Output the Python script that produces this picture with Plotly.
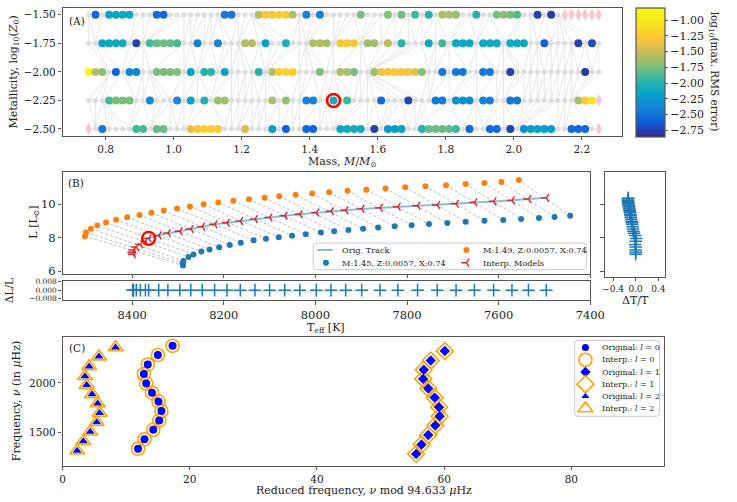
import plotly.graph_objects as go

W, H = 737, 502
FONT = "DejaVu Serif"
TXT = "#222222"
AXC = "#555555"

# ---------------- Panel A data ----------------
metallicity_rows = [-1.50, -1.75, -2.00, -2.25, -2.50]
mass_grid = [0.75, 0.77, 0.79, 0.81, 0.83, 0.85, 0.87, 0.89, 0.91, 0.93, 0.95, 0.97, 0.99,
             1.01, 1.03, 1.05, 1.07, 1.09, 1.11, 1.13, 1.15, 1.17, 1.19, 1.21, 1.23, 1.25,
             1.27, 1.29, 1.31, 1.33, 1.35, 1.37, 1.39, 1.41, 1.43, 1.45, 1.47, 1.49, 1.51,
             1.53, 1.55, 1.57, 1.59, 1.61, 1.63, 1.65, 1.67, 1.69, 1.71, 1.73, 1.75, 1.77,
             1.79, 1.81, 1.83, 1.85, 1.87, 1.89, 1.91, 1.93, 1.95, 1.97, 1.99, 2.01, 2.03,
             2.05, 2.07, 2.09, 2.11, 2.13, 2.15, 2.17, 2.19, 2.21, 2.23, 2.25]

z150_mass = [0.77, 0.81, 0.83, 0.85, 0.87, 0.95, 0.97, 1.15, 1.17, 1.25, 1.27, 1.29, 1.31, 1.33,
             1.35, 1.39, 1.43, 1.55, 1.63, 1.67, 1.71, 1.75, 1.79, 1.81, 1.83, 1.89, 1.95, 1.97,
             1.99, 2.01, 2.07, 2.11]
z150_err = [-2.55, -2.15, -2.15, -2.12, -2.15, -2.55, -2.55, -2.45, -2.45, -1.60, -1.30, -1.30,
            -1.22, -1.25, -1.58, -2.40, -2.40, -1.75, -1.72, -1.78, -1.92, -2.00, -1.60, -1.60,
            -1.65, -2.00, -1.75, -1.72, -1.75, -1.85, -2.75, -2.78]
z150_fail = [2.15, 2.17, 2.19, 2.21, 2.23, 2.25]

z175_mass = [0.79, 0.81, 0.83, 0.85, 0.89, 0.93, 0.95, 0.97, 0.99, 1.01, 1.07, 1.13, 1.21, 1.23,
             1.27, 1.33, 1.41, 1.43, 1.45, 1.49, 1.51, 1.53, 1.57, 1.59, 1.63, 1.67, 1.75, 1.79,
             1.83, 1.85, 1.87, 1.91, 1.93, 1.95, 1.99, 2.01, 2.03, 2.09, 2.19, 2.23]
z175_err = [-2.15, -2.15, -2.15, -2.10, -2.75, -1.90, -1.80, -1.78, -1.80, -1.88, -2.40, -2.40,
            -1.60, -1.58, -2.20, -2.05, -1.60, -1.58, -1.62, -1.30, -1.28, -1.30, -1.65, -1.65,
            -1.55, -2.00, -2.15, -1.90, -2.15, -2.15, -2.15, -2.15, -2.15, -2.15, -2.12, -2.12,
            -2.12, -2.60, -2.75, -2.70]
z175_fail = []

z200_mass = [0.75, 0.77, 0.79, 0.83, 0.87, 0.89, 0.95, 0.97, 0.99, 1.01, 1.05, 1.09, 1.11, 1.15,
             1.25, 1.29, 1.31, 1.33, 1.35, 1.43, 1.49, 1.51, 1.53, 1.59, 1.61, 1.63, 1.65, 1.67,
             1.69, 1.71, 1.73, 1.79, 1.83, 1.85, 1.91, 1.93, 1.99, 2.21]
z200_err = [-0.85, -1.60, -1.68, -2.60, -2.35, -2.35, -1.75, -1.75, -1.75, -1.72, -2.20, -2.00,
            -2.00, -2.20, -2.00, -1.58, -1.22, -1.20, -1.25, -1.75, -1.60, -1.60, -1.75, -1.65,
            -1.35, -1.30, -1.28, -1.30, -1.30, -1.40, -1.72, -2.45, -2.45, -2.45, -2.45, -2.45,
            -2.75, -2.78]
z200_fail = []

z225_mass = [0.81, 0.83, 0.85, 0.87, 0.93, 1.01, 1.05, 1.09, 1.13, 1.15, 1.29, 1.33, 1.39, 1.41,
             1.47, 1.51, 1.61, 1.69, 1.77, 1.79, 1.83, 1.85, 1.87, 1.91, 1.93, 1.99, 2.01, 2.19,
             2.21, 2.23]
z225_err = [-1.90, -1.75, -1.75, -1.75, -2.35, -2.35, -2.20, -2.00, -1.65, -1.65, -1.60, -1.68,
            -2.40, -2.40, -2.05, -1.90, -2.55, -2.72, -2.45, -2.45, -2.30, -2.30, -2.30, -2.40,
            -2.40, -2.45, -2.45, -1.62, -1.28, -1.02]
z225_fail = [2.25]

z250_mass = [0.79, 0.89, 0.91, 0.95, 0.97, 1.05, 1.07, 1.09, 1.11, 1.13, 1.21, 1.29, 1.33, 1.39,
             1.41, 1.49, 1.51, 1.53, 1.55, 1.59, 1.63, 1.65, 1.67, 1.73, 1.75, 1.77, 1.79, 1.81,
             1.83, 1.87, 1.93, 1.95, 1.99, 2.03, 2.05, 2.07, 2.09, 2.11, 2.17, 2.19, 2.21]
z250_err = [-2.45, -1.90, -1.88, -1.80, -1.80, -1.38, -1.28, -1.22, -1.22, -1.28, -1.45, -2.20,
            -2.60, -2.55, -2.60, -2.15, -2.10, -2.10, -2.10, -2.75, -2.25, -2.20, -2.20, -2.00,
            -1.80, -1.78, -1.80, -1.80, -1.90, -2.55, -2.55, -2.55, -2.75, -2.30, -2.20, -2.20,
            -2.20, -2.20, -2.55, -2.55, -2.55]
z250_fail = [0.75, 2.25]

highlight_mass = [1.47]
highlight_z = [-2.25]
colorbar_ticks = [-1.00, -1.25, -1.50, -1.75, -2.00, -2.25, -2.50, -2.75]

# ---------------- Panel B data ----------------
teff_m149 = [8503, 8501, 8490, 8476, 8457, 8435, 8411, 8384, 8358, 8331, 8302, 8274, 8244, 8212,
             8179, 8145, 8111, 8079, 8043, 8007, 7970, 7930, 7889, 7847, 7804, 7760, 7715, 7672,
             7631, 7594, 7556]
lum_m149 = [8.10, 8.32, 8.55, 8.74, 8.92, 9.08, 9.23, 9.37, 9.50, 9.63, 9.76, 9.88, 10.00, 10.11,
            10.21, 10.30, 10.39, 10.48, 10.57, 10.65, 10.73, 10.81, 10.88, 10.95, 11.02, 11.09,
            11.15, 11.22, 11.28, 11.34, 11.45]
teff_m145 = [8289, 8290, 8288, 8277, 8266, 8249, 8231, 8210, 8187, 8163, 8135, 8108, 8080, 8051,
             8021, 7988, 7959, 7928, 7896, 7863, 7827, 7790, 7752, 7712, 7672, 7631, 7590, 7551,
             7512, 7478, 7444]
lum_m145 = [6.34, 6.47, 6.61, 6.86, 7.00, 7.18, 7.30, 7.43, 7.57, 7.71, 7.85, 7.95, 8.04, 8.13,
            8.22, 8.32, 8.39, 8.47, 8.55, 8.62, 8.69, 8.75, 8.82, 8.88, 8.96, 9.02, 9.07, 9.12,
            9.18, 9.24, 9.32]
teff_interp = [8398, 8399, 8397, 8391, 8382, 8371, 8364, 8342, 8322, 8296, 8272, 8247, 8220, 8193,
               8164, 8132, 8100, 8067, 8034, 7998, 7966, 7934, 7899, 7859, 7820, 7777, 7734, 7693,
               7653, 7611, 7571, 7535, 7496]
lum_interp = [7.02, 7.14, 7.27, 7.45, 7.61, 7.80, 7.97, 8.14, 8.28, 8.39, 8.53, 8.67, 8.81, 8.90,
              9.00, 9.12, 9.22, 9.32, 9.41, 9.51, 9.59, 9.65, 9.73, 9.79, 9.86, 9.92, 9.96, 10.04,
              10.12, 10.18, 10.24, 10.32, 10.39]
dL_over_L = [0.0, 0.0, 0.0, 0.0, 0.0, 0.0, 0.0, 0.0, 0.0, 0.0, 0.0, 0.0, 0.0, 0.0, 0.0, 0.0, 0.0,
             0.0, 0.0, 0.0, 0.0, 0.0, 0.0, 0.0, 0.0, 0.0, 0.0, 0.0, 0.0, 0.0, 0.0, 0.0, 0.0]
dT_over_T = [0.00, 0.00, 0.00, 0.00, -0.01, 0.00, 0.01, -0.01, -0.03, -0.04, -0.05, -0.055, -0.06,
             -0.065, -0.07, -0.08, -0.085, -0.09, -0.095, -0.10, -0.105, -0.11, -0.11, -0.115,
             -0.12, -0.12, -0.125, -0.13, -0.13, -0.135, -0.135, -0.14, -0.13]
highlight_interp = 6      # index of the circled interpolated model
track_start = 6           # the original track is drawn from this model onward

# ---------------- Panel C data ----------------
dnu = 94.633
l0_mod = [11.87, 12.89, 14.27, 15.20, 15.55, 15.09, 14.07, 13.15, 12.79, 13.40, 14.99, 17.30]
l0_freq = [1330, 1427, 1523, 1617, 1713, 1810, 1900, 1993, 2090, 2187, 2283, 2377]
l1_mod = [55.60, 56.44, 57.50, 58.60, 59.30, 59.20, 58.50, 57.50, 56.70, 56.80, 57.90, 60.10]
l1_freq = [1277, 1373, 1470, 1567, 1660, 1753, 1850, 1943, 2040, 2133, 2227, 2323]
l2_mod = [2.30, 3.27, 4.35, 5.37, 5.83, 5.53, 4.65, 3.79, 3.53, 4.19, 5.73, 8.34]
l2_freq = [1310, 1407, 1503, 1600, 1693, 1790, 1883, 1977, 2067, 2167, 2267, 2360]

# ---------------- colours ----------------
PARULA = [[0.000, "#352a87"], [0.111, "#0f5cdd"], [0.222, "#1481d6"], [0.333, "#06a4ca"],
          [0.444, "#2eb7a4"], [0.556, "#87bf77"], [0.667, "#d1bb59"], [0.778, "#fec832"],
          [0.889, "#f5e41d"], [1.000, "#f9fb0e"]]
C_BLUE = "#1f77b4"
C_ORANGE = "#ff7f0e"
C_RED = "#d62728"

fig = go.Figure()

# ======== Panel A ========
rows_A = [(metallicity_rows[0], z150_mass, z150_err, z150_fail),
          (metallicity_rows[1], z175_mass, z175_err, z175_fail),
          (metallicity_rows[2], z200_mass, z200_err, z200_fail),
          (metallicity_rows[3], z225_mass, z225_err, z225_fail),
          (metallicity_rows[4], z250_mass, z250_err, z250_fail)]

train = []
for z, tm, te, fm in rows_A:
    excl = set(round(v, 2) for v in tm + fm)
    train.append([g for g in mass_grid if round(g, 2) not in excl])

ex, ey = [], []
for r, row in enumerate(rows_A):
    pts = train[r]
    ex += pts + [None]
    ey += [row[0]] * len(pts) + [None]
for r in range(len(rows_A) - 1):
    A, B = train[r], train[r + 1]
    za, zb = rows_A[r][0], rows_A[r + 1][0]
    i = j = 0
    ex += [A[0], B[0], None]
    ey += [za, zb, None]
    while i < len(A) - 1 or j < len(B) - 1:
        if j == len(B) - 1 or (i < len(A) - 1 and A[i + 1] <= B[j + 1]):
            i += 1
        else:
            j += 1
        ex += [A[i], B[j], None]
        ey += [za, zb, None]

fig.add_trace(go.Scatter(x=ex, y=ey, mode="lines", xaxis="x", yaxis="y",
                         line=dict(color="#e4e4e4", width=0.9), hoverinfo="skip"))
gx, gy = [], []
for r, row in enumerate(rows_A):
    gx += train[r]
    gy += [row[0]] * len(train[r])
fig.add_trace(go.Scatter(x=gx, y=gy, mode="markers", xaxis="x", yaxis="y",
                         marker=dict(size=5, color="#dddddd")))
fx, fy, tx, ty, tc = [], [], [], [], []
for z, tm, te, fm in rows_A:
    fx += fm
    fy += [z] * len(fm)
    tx += tm
    ty += [z] * len(tm)
    tc += te
fig.add_trace(go.Scatter(x=fx, y=fy, mode="markers", xaxis="x", yaxis="y",
                         marker=dict(symbol="diamond-tall", size=9, color="#ffc4cf")))
fig.add_trace(go.Scatter(
    x=tx, y=ty, mode="markers", xaxis="x", yaxis="y",
    marker=dict(size=8, color=tc, colorscale=PARULA, cmin=-2.855, cmax=-0.808,
                showscale=True,
                colorbar=dict(x=649 / W, xanchor="left", xpad=0, ypad=0, thickness=29,
                              len=131 / H, lenmode="fraction", y=1 - 5 / H, yanchor="top",
                              outlinecolor=AXC, outlinewidth=1.2, ticks="outside", ticklen=3,
                              tickcolor=AXC, tickvals=colorbar_ticks, tickformat=".2f",
                              tickfont=dict(family=FONT, size=11, color=TXT)))))
fig.add_trace(go.Scatter(x=highlight_mass, y=highlight_z, mode="markers", xaxis="x", yaxis="y",
                         marker=dict(symbol="circle-open", size=13, color="red",
                                     line=dict(width=2.6, color="red"))))

# ======== Panel B ========
dx, dy = [], []
for k in range(len(teff_m149)):
    dx += [teff_m149[k], teff_m145[k], None]
    dy += [lum_m149[k], lum_m145[k], None]
fig.add_trace(go.Scatter(x=dx, y=dy, mode="lines", xaxis="x2", yaxis="y2",
                         line=dict(color="rgba(128,128,128,0.65)", width=0.8, dash="3px,2px")))
fig.add_trace(go.Scatter(x=teff_interp[track_start:], y=lum_interp[track_start:], mode="lines",
                         xaxis="x2", yaxis="y2", line=dict(color="rgba(31,119,180,0.5)", width=2)))
fig.add_trace(go.Scatter(x=teff_m149, y=lum_m149, mode="markers", xaxis="x2", yaxis="y2",
                         marker=dict(size=6, color=C_ORANGE)))
fig.add_trace(go.Scatter(x=teff_m145, y=lum_m145, mode="markers", xaxis="x2", yaxis="y2",
                         marker=dict(size=6, color=C_BLUE)))
fig.add_trace(go.Scatter(x=teff_interp, y=lum_interp, mode="markers", xaxis="x2", yaxis="y2",
                         marker=dict(symbol="y-left", size=6.5, color=C_RED,
                                     line=dict(width=1.4, color=C_RED))))
fig.add_trace(go.Scatter(x=[teff_interp[highlight_interp]], y=[lum_interp[highlight_interp]],
                         mode="markers", xaxis="x2", yaxis="y2",
                         marker=dict(symbol="circle-open", size=13, color="red",
                                     line=dict(width=2.4, color="red"))))
# residual panels
fig.add_trace(go.Scatter(x=teff_interp, y=dL_over_L, mode="markers", xaxis="x3", yaxis="y3",
                         marker=dict(symbol="cross-thin", size=9, color=C_BLUE,
                                     line=dict(width=1.5, color=C_BLUE))))
fig.add_trace(go.Scatter(x=dT_over_T, y=lum_interp, mode="markers", xaxis="x4", yaxis="y4",
                         marker=dict(symbol="cross-thin", size=9, color=C_BLUE,
                                     line=dict(width=1.5, color=C_BLUE))))

# ======== Panel C ========
BL = "#0000ff"
OR = "#ffa500"
fig.add_trace(go.Scatter(x=l0_mod, y=l0_freq, mode="markers", xaxis="x5", yaxis="y5",
                         marker=dict(symbol="circle-open", size=13, color=OR, line=dict(width=1.6, color=OR))))
fig.add_trace(go.Scatter(x=l1_mod, y=l1_freq, mode="markers", xaxis="x5", yaxis="y5",
                         marker=dict(symbol="diamond-open", size=13, color=OR, line=dict(width=1.6, color=OR))))
fig.add_trace(go.Scatter(x=l2_mod, y=l2_freq, mode="markers", xaxis="x5", yaxis="y5",
                         marker=dict(symbol="triangle-up-open", size=13, color=OR, line=dict(width=1.6, color=OR))))
fig.add_trace(go.Scatter(x=l0_mod, y=l0_freq, mode="markers", xaxis="x5", yaxis="y5",
                         marker=dict(symbol="circle", size=8, color=BL)))
fig.add_trace(go.Scatter(x=l1_mod, y=l1_freq, mode="markers", xaxis="x5", yaxis="y5",
                         marker=dict(symbol="diamond", size=8, color=BL)))
fig.add_trace(go.Scatter(x=l2_mod, y=l2_freq, mode="markers", xaxis="x5", yaxis="y5",
                         marker=dict(symbol="triangle-up", size=8, color=BL)))

# ======== hand-built legends (key glyphs on a pixel overlay axis) ========
def key(x, y, **m):
    fig.add_trace(go.Scatter(x=[x], y=[y], mode="markers", xaxis="x6", yaxis="y6", marker=m))

fig.add_trace(go.Scatter(x=[322, 338], y=[251, 251], mode="lines", xaxis="x6", yaxis="y6",
                         line=dict(color="rgba(31,119,180,0.5)", width=2)))
key(331, 264, size=6, color=C_BLUE)
key(475, 251, size=6, color=C_ORANGE)
key(475, 264, symbol="y-left", size=6.5, color=C_RED, line=dict(width=1.4, color=C_RED))
legC_y = [350, 362.5, 375, 387.3, 399.7, 412]
key(597, legC_y[0], size=7, color=BL)
key(597, legC_y[1], symbol="circle-open", size=13, color=OR, line=dict(width=1.6, color=OR))
key(597, legC_y[2], symbol="diamond", size=8, color=BL)
key(597, legC_y[3], symbol="diamond-open", size=13, color=OR, line=dict(width=1.6, color=OR))
key(597, legC_y[4], symbol="triangle-up", size=7, color=BL)
key(597, legC_y[5], symbol="triangle-up-open", size=13, color=OR, line=dict(width=1.6, color=OR))


def rrect(x0, y0, x1, y1, r=3):
    return (f"M{x0+r},{y0} L{x1-r},{y0} Q{x1},{y0} {x1},{y0+r} L{x1},{y1-r} Q{x1},{y1} {x1-r},{y1} "
            f"L{x0+r},{y1} Q{x0},{y1} {x0},{y1-r} L{x0},{y0+r} Q{x0},{y0} {x0+r},{y0} Z")


shapes = [
    dict(type="path", path=rrect(318, 244, 598, 271), xref="x6", yref="y6", layer="below",
         line=dict(color="#cccccc", width=1), fillcolor="rgba(255,255,255,0.85)"),
    dict(type="path", path=rrect(586, 343, 673, 420), xref="x6", yref="y6", layer="below",
         line=dict(color="#cccccc", width=1), fillcolor="rgba(255,255,255,0.85)"),
]


def ann(text, x, y, size=11, angle=0, xanchor="center", yanchor="middle"):
    return dict(text=text, x=x / W, y=1 - y / H, xref="paper", yref="paper", showarrow=False,
                textangle=angle, xanchor=xanchor, yanchor=yanchor,
                font=dict(family=FONT, size=size, color=TXT))


annotations = [
    ann("(A)", 66, 18, 10.5, xanchor="left"),
    ann("(B)", 65, 183, 10.5, xanchor="left"),
    ann("(C)", 66, 351, 10.5, xanchor="left"),
    ann("Metallicity, log<sub>10</sub>(<i>Z</i><sub>0</sub>)", 11, 70, 11, -90),
    ann("Mass, <i>M</i>/<i>M</i><sub>⊙</sub>", 348, 162, 11),
    ann("log<sub>10</sub>(max. RMS error)", 729, 70, 10.5, 90),
    ann("L [L<sub>⊙</sub>]", 32, 223, 11, -90),
    ann("ΔL/L", 7, 292, 10.5, -90),
    ann("T<sub>eff</sub> [K]", 331, 330, 11),
    ann("ΔT/T", 648, 302, 11),
    ann("Frequency, <i>ν</i> (in <i>μ</i>Hz)", 14, 405, 11, -90),
    ann(f"Reduced frequency, <i>ν</i> mod {dnu} <i>μ</i>Hz", 370, 495.5, 11),
    ann("Orig. Track", 345, 251, 8.2, xanchor="left"),
    ann("M:1.45, Z:0.0057, X:0.74", 345, 264, 8.2, xanchor="left"),
    ann("M:1.49, Z:0.0057, X:0.74", 490, 251, 8.2, xanchor="left"),
    ann("Interp. Models", 490, 264, 8.2, xanchor="left"),
    ann("Original: <i>l</i> = 0", 612, legC_y[0], 8, xanchor="left"),
    ann("Interp.: <i>l</i> = 0", 612, legC_y[1], 8, xanchor="left"),
    ann("Original: <i>l</i> = 1", 612, legC_y[2], 8, xanchor="left"),
    ann("Interp.: <i>l</i> = 1", 612, legC_y[3], 8, xanchor="left"),
    ann("Original: <i>l</i> = 2", 612, legC_y[4], 8, xanchor="left"),
    ann("Interp.: <i>l</i> = 2", 612, legC_y[5], 8, xanchor="left"),
]


def axs(size=10.5, **kw):
    d = dict(showline=True, mirror=True, linecolor=AXC, linewidth=1.2, ticks="outside",
             ticklen=3.5, tickwidth=1, tickcolor=AXC, showgrid=False, zeroline=False,
             tickangle=0, tickfont=dict(family=FONT, size=size, color=TXT))
    d.update(kw)
    return d


fig.update_layout(
    width=W, height=H, margin=dict(l=0, r=0, t=0, b=0), showlegend=False,
    paper_bgcolor="white", plot_bgcolor="rgba(0,0,0,0)",
    font=dict(family=FONT, color=TXT),
    xaxis=axs(10.5, domain=[61 / W, 634 / W], range=[0.673, 2.317], anchor="y",
              tickvals=[0.8, 1.0, 1.2, 1.4, 1.6, 1.8, 2.0, 2.2], tickformat=".1f"),
    yaxis=axs(10.5, domain=[1 - 135 / H, 1 - 5 / H], range=[-2.56, -1.44], anchor="x",
              tickvals=metallicity_rows, tickformat=".2f"),
    xaxis2=axs(11.5, domain=[61 / W, 602 / W], range=[8552, 7400], anchor="y2",
               showticklabels=False, tickvals=[8400, 8200, 8000, 7800, 7600, 7400]),
    yaxis2=axs(11.5, domain=[1 - 275 / H, 1 - 172 / H], range=[5.86, 11.92], anchor="x2",
               tickvals=[6, 8, 10]),
    xaxis3=axs(11.5, domain=[61 / W, 602 / W], range=[8552, 7400], anchor="y3",
               tickvals=[8400, 8200, 8000, 7800, 7600, 7400]),
    yaxis3=axs(7.5, domain=[1 - 302 / H, 1 - 282 / H], range=[-0.0096, 0.0092], anchor="x3",
               tickvals=[0.008, 0.0, -0.008], tickformat=".3f", ticklen=3),
    xaxis4=axs(9, domain=[617 / W, 679 / W], range=[-0.543, 0.525], anchor="y4",
               tickvals=[-0.4, 0.0, 0.4], tickformat=".1f"),
    yaxis4=axs(10.5, domain=[1 - 278 / H, 1 - 172 / H], range=[5.69, 11.92], anchor="x4",
               tickvals=[6, 8, 10], showticklabels=False),
    xaxis5=axs(10.5, domain=[61 / W, 678 / W], range=[0, dnu], anchor="y5",
               tickvals=[0, 20, 40, 60, 80]),
    yaxis5=axs(10.5, domain=[1 - 470 / H, 1 - 339 / H], range=[1160, 2470], anchor="x5",
               tickvals=[1500, 2000]),
    xaxis6=dict(domain=[0, 1], range=[0, W], visible=False, anchor="y6", fixedrange=True),
    yaxis6=dict(domain=[0, 1], range=[H, 0], visible=False, anchor="x6", fixedrange=True),
    shapes=shapes,
    annotations=annotations,
)

fig.write_html("out.html")
